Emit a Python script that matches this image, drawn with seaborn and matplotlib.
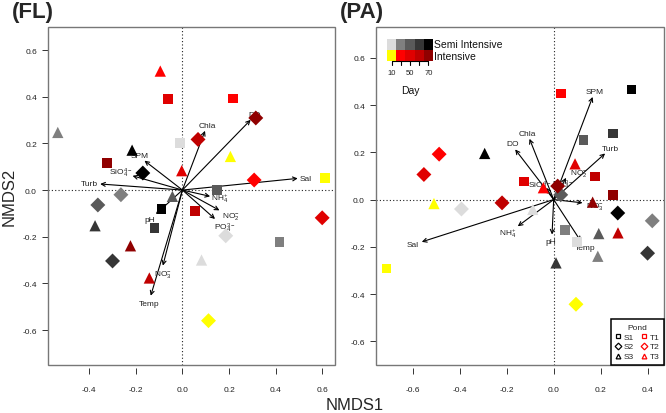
import numpy as np
import pandas as pd
import matplotlib
matplotlib.use('Agg')
import matplotlib.pyplot as plt
import seaborn as sns
from matplotlib.lines import Line2D
from matplotlib.patches import Rectangle

sns.set_theme(style='white')
plt.rcParams['font.family'] = ['Liberation Sans', 'DejaVu Sans']
plt.rcParams['mathtext.fontset'] = 'custom'
plt.rcParams['mathtext.rm'] = 'Liberation Sans'
plt.rcParams['mathtext.it'] = 'Liberation Sans'
plt.rcParams['mathtext.default'] = 'regular'

# ---------------- data ----------------
days = [10, 30, 50, 60, 70]
day_tick_labels = ['10', '', '50', '', '70']
semi_colors = ['#dcdcdc', '#7f7f7f', '#5a5a5a', '#363636', '#000000']
int_colors = ['#ffff00', '#ff0000', '#e00000', '#c00000', '#900000']
ponds = ['S1', 'S2', 'S3', 'T1', 'T2', 'T3']

# FL panel: NMDS scores per pond, ordered by day
fl_S1_x = [-0.010, 0.416, 0.148, -0.120, -0.090]
fl_S1_y = [0.203, -0.223, 0.001, -0.164, -0.081]
fl_S2_x = [0.186, -0.264, -0.363, -0.300, -0.170]
fl_S2_y = [-0.196, -0.020, -0.064, -0.304, 0.073]
fl_S3_x = [0.082, -0.535, -0.043, -0.375, -0.216]
fl_S3_y = [-0.300, 0.247, -0.027, -0.153, 0.171]
fl_T1_x = [0.612, 0.216, -0.063, 0.054, -0.323]
fl_T1_y = [0.051, 0.393, 0.390, -0.091, 0.117]
fl_T2_x = [0.112, 0.308, 0.600, 0.067, 0.315]
fl_T2_y = [-0.560, 0.043, -0.119, 0.217, 0.309]
fl_T3_x = [0.206, -0.095, -0.003, -0.142, -0.223]
fl_T3_y = [0.144, 0.510, 0.083, -0.377, -0.239]

# PA panel
pa_S1_x = [0.100, 0.047, 0.127, 0.254, 0.332]
pa_S1_y = [-0.180, -0.130, 0.251, 0.280, 0.466]
pa_S2_x = [-0.393, 0.420, 0.030, 0.400, 0.273]
pa_S2_y = [-0.040, -0.090, 0.020, -0.227, -0.057]
pa_S3_x = [-0.089, 0.188, 0.192, 0.010, -0.294]
pa_S3_y = [-0.042, -0.240, -0.144, -0.268, 0.195]
pa_T1_x = [-0.712, 0.031, -0.127, 0.175, 0.253]
pa_T1_y = [-0.292, 0.448, 0.076, 0.097, 0.018]
pa_T2_x = [0.095, -0.488, -0.553, -0.220, 0.017]
pa_T2_y = [-0.443, 0.192, 0.106, -0.014, 0.057]
pa_T3_x = [-0.510, -0.044, 0.091, 0.274, 0.166]
pa_T3_y = [-0.017, 0.050, 0.151, -0.141, -0.011]

# environmental vectors
env_names = ['Sal', 'DO', 'Chla', 'SPM', 'SiO$_4^{4-}$', 'Turb', 'NH$_4^{+}$',
             'NO$_2^{-}$', 'PO$_4^{3-}$', 'pH', 'NO$_3^{-}$', 'Temp']
fl_env_x = [0.495, 0.293, 0.097, -0.163, -0.214, -0.353, 0.119, 0.159, 0.140, -0.114, -0.084, -0.136]
fl_env_y = [0.050, 0.301, 0.254, 0.126, 0.061, 0.026, -0.027, -0.087, -0.124, -0.103, -0.324, -0.453]
pa_env_x = [-0.562, -0.164, -0.103, 0.166, -0.032, 0.219, -0.153, 0.053, 0.024, -0.007, 0.123, 0.116]
pa_env_y = [-0.179, 0.212, 0.257, 0.434, 0.050, 0.195, -0.113, 0.092, 0.064, -0.148, -0.014, -0.177]

# label offsets (pixels) and alignment -- styling only
fl_lab = {'Sal': (2, 0, 'left'), 'DO': (4, 5, 'center'), 'Chla': (2, 5, 'center'),
          'SPM': (-5, 5, 'center'), 'SiO$_4^{4-}$': (-12, 3, 'center'), 'Turb': (-2, 0, 'right'),
          'NH$_4^{+}$': (1, -2, 'left'), 'NO$_2^{-}$': (3, -5, 'left'),
          'PO$_4^{3-}$': (10, -8, 'center'), 'pH': (-6, -5, 'center'),
          'NO$_3^{-}$': (0, -8, 'center'), 'Temp': (-2, -8, 'center')}
pa_lab = {'Sal': (-9, -3, 'center'), 'DO': (-3, 6, 'center'), 'Chla': (-2, 5, 'center'),
          'SPM': (2, 5, 'center'), 'SiO$_4^{4-}$': (-6, 2, 'center'), 'Turb': (5, 5, 'center'),
          'NH$_4^{+}$': (-10, -7, 'center'), 'NO$_2^{-}$': (13, 5, 'center'),
          'PO$_4^{3-}$': (3, 0, 'center'), 'pH': (-1, -7, 'center'),
          'NO$_3^{-}$': (12, -3, 'center'), 'Temp': (4, -6, 'center')}


def build(prefix):
    g = globals()
    rows = []
    for p in ponds:
        xs = g[f'{prefix}_{p}_x']
        ys = g[f'{prefix}_{p}_y']
        for i, d in enumerate(days):
            rows.append(dict(x=xs[i], y=ys[i], pond=p, shape=p[1], key=f'{p[0]}{d}'))
    return pd.DataFrame(rows)


palette = {f'S{d}': c for d, c in zip(days, semi_colors)}
palette.update({f'T{d}': c for d, c in zip(days, int_colors)})
marker_map = {'1': 's', '2': 'D', '3': '^'}
marker_size = {'1': 48, '2': 58, '3': 66}

fig = plt.figure(figsize=(6.66, 4.14), dpi=100)
fig.patch.set_facecolor('white')
W, H = 666, 414
ax1 = fig.add_axes([48 / W, 1 - 366 / H, 287 / W, 338 / H])
ax2 = fig.add_axes([376 / W, 1 - 366 / H, 288 / W, 338 / H])


def panel(ax, df, ex, ey, labs, xlim, ylim, xticks, yticks):
    ax.set_facecolor('white')
    ax.axhline(0, color='#222222', lw=0.8, ls=(0, (1, 2)), zorder=1)
    ax.axvline(0, color='#222222', lw=0.8, ls=(0, (1, 2)), zorder=1)
    for name, x, y in zip(env_names, ex, ey):
        ax.annotate('', xy=(x, y), xytext=(0, 0),
                    arrowprops=dict(arrowstyle='->', lw=0.8, color='black',
                                    shrinkA=0, shrinkB=0, mutation_scale=7), zorder=2)
        dx, dy, ha = labs[name]
        ax.annotate(name, xy=(x, y), xytext=(dx, dy), textcoords='offset pixels',
                    ha=ha, va='center', fontsize=6, color='#222222', zorder=2)
    for shp, sub in df.groupby('shape'):
        sns.scatterplot(data=sub, x='x', y='y', hue='key', palette=palette,
                        marker=marker_map[shp], s=marker_size[shp], linewidth=0,
                        legend=False, ax=ax, zorder=3)
    ax.set_xlim(*xlim)
    ax.set_ylim(*ylim)
    ax.set_xticks(xticks)
    ax.set_yticks(yticks)
    ax.set_xticklabels([f'{t:.1f}' for t in xticks])
    ax.set_yticklabels([f'{t:.1f}' for t in yticks])
    ax.set_xlabel('')
    ax.set_ylabel('')
    for s in ax.spines.values():
        s.set_color('none')
    ax.spines['bottom'].set_position(('outward', 2))
    ax.add_patch(Rectangle((0, 0), 1, 1, transform=ax.transAxes, fill=False,
                           edgecolor='#777777', lw=1.0, clip_on=False, zorder=5))
    ax.tick_params(axis='both', length=4, width=0.7, color='#333333', direction='out',
                   labelsize=6, labelcolor='#222222', bottom=True, left=True)
    ax.tick_params(axis='x', pad=9)
    ax.tick_params(axis='y', pad=4)


panel(ax1, build('fl'), fl_env_x, fl_env_y, fl_lab, (-0.577, 0.655), (-0.75, 0.699),
      [-0.4, -0.2, 0.0, 0.2, 0.4, 0.6], [-0.6, -0.4, -0.2, 0.0, 0.2, 0.4, 0.6])
panel(ax2, build('pa'), pa_env_x, pa_env_y, pa_lab, (-0.757, 0.47), (-0.70, 0.73),
      [-0.6, -0.4, -0.2, 0.0, 0.2, 0.4], [-0.6, -0.4, -0.2, 0.0, 0.2, 0.4, 0.6])

# colour legend (Day)
x0, bw = 0.038, 0.032
for i in range(5):
    ax2.add_patch(Rectangle((x0 + i * bw, 0.932), bw, 0.032, transform=ax2.transAxes,
                            facecolor=semi_colors[i], edgecolor='none', zorder=6))
    ax2.add_patch(Rectangle((x0 + i * bw, 0.900), bw, 0.032, transform=ax2.transAxes,
                            facecolor=int_colors[i], edgecolor='none', zorder=6))
    cx = x0 + (i + 0.5) * bw
    ax2.plot([cx, cx], [0.900, 0.888], transform=ax2.transAxes, color='black', lw=0.8, zorder=6)
    ax2.text(cx, 0.866, day_tick_labels[i], transform=ax2.transAxes, ha='center', va='center',
             fontsize=5.5, color='#222222')
ax2.plot([x0 + 0.5 * bw, x0 + 4.5 * bw], [0.900, 0.900], transform=ax2.transAxes,
         color='black', lw=0.8, zorder=6)
ax2.text(x0 + 5 * bw + 0.003, 0.950, 'Semi Intensive', transform=ax2.transAxes,
         ha='left', va='center', fontsize=7.5, color='#111111')
ax2.text(x0 + 5 * bw + 0.003, 0.914, 'Intensive', transform=ax2.transAxes,
         ha='left', va='center', fontsize=7.5, color='#111111')
ax2.text(0.118, 0.815, 'Day', transform=ax2.transAxes, ha='center', va='center',
         fontsize=7.5, color='#111111')

# pond legend
handles = []
for p in ponds:
    col = 'black' if p[0] == 'S' else '#ff0000'
    handles.append(Line2D([], [], ls='none', marker=marker_map[p[1]], markersize=3.4,
                          markerfacecolor='none', markeredgecolor=col, markeredgewidth=0.9))
leg = ax2.legend(handles, ponds, ncol=2, title='Pond', loc='lower right',
                 bbox_to_anchor=(1, 0), borderaxespad=0, frameon=True, fancybox=False,
                 framealpha=1, edgecolor='black', fontsize=6, title_fontsize=6,
                 handlelength=0.6, handletextpad=0.4, columnspacing=0.9,
                 labelspacing=0.25, borderpad=0.55)
leg.get_frame().set_linewidth(1.1)
leg.set_zorder(10)

# titles and axis labels
fig.text(12 / W, 1 - 2 / H, '(FL)', fontsize=16, fontweight='bold', ha='left', va='top')
fig.text(340 / W, 1 - 2 / H, '(PA)', fontsize=16, fontweight='bold', ha='left', va='top')
fig.text(355 / W, 1 - 406 / H, 'NMDS1', fontsize=12, ha='center', va='center')
fig.text(9 / W, 1 - 197 / H, 'NMDS2', fontsize=12, ha='center', va='center', rotation=90)

fig.savefig('out.png', dpi=100, facecolor='white')
